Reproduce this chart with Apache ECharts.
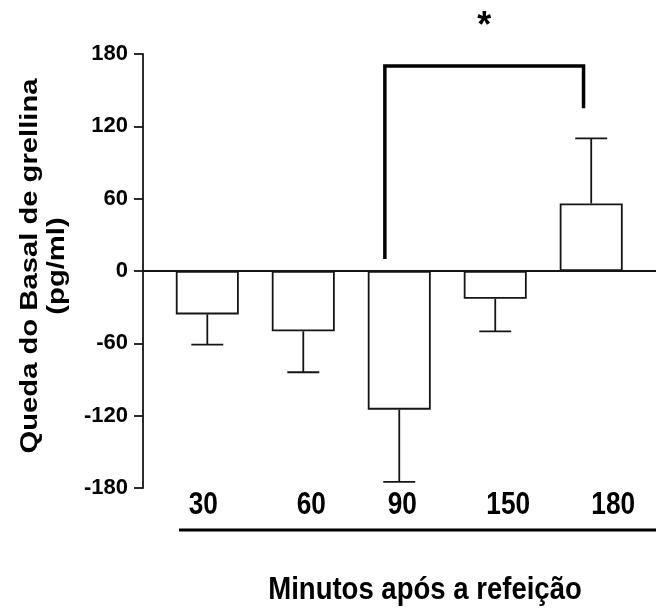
<!DOCTYPE html>
<html>
<head>
<meta charset="utf-8">
<script src="https://cdn.jsdelivr.net/npm/echarts@6/dist/echarts.min.js"></script>
<style>
html,body{margin:0;padding:0;background:#fff;}
#chart{width:656px;height:611px;}
</style>
</head>
<body>
<div id="chart"></div>
<script>
// ---- data ----
const categories = ['30', '60', '90', '150', '180'];
const means = [-36, -50, -115, -23, 56];
const sem = [25, 34, 60, 27, 54];
const yTickValues = [-180, -120, -60, 0, 60, 120, 180];
const bracketX = [2.85, 4.92];
const bracketTop = 170;
const bracketLegEnds = [10, 135];
const sigMarkY = 202;
const sigMark = '*';
const yTitle = ['Queda do Basal de grellina', '(pg/ml)'];
const xTitle = 'Minutos após a refeição';

// ---- layout (pixel nudges of the category labels, as in the original figure) ----
const labelNudge = [-4, 8, 3, 13, 22];

const xPos = categories.map((c, i) => i + 1);
const barData = xPos.map((x, i) => [x, means[i]]);
const errData = xPos.map((x, i) => [x, means[i], sem[i]]);
const labelData = xPos.map(x => [x, -180]);

const normal = "'Liberation Sans',Arial,sans-serif";
const ink = '#151515';

const chart = echarts.init(document.getElementById('chart'), null, {renderer: 'canvas'});
chart.setOption({
  animation: false,
  backgroundColor: '#fff',
  grid: {left: 143, right: 0, top: 54, bottom: 123},
  xAxis: {
    type: 'value', min: 0.33, max: 5.675,
    axisLine: {show: false, onZero: false},
    axisTick: {show: false},
    splitLine: {show: false},
    axisLabel: {show: false}
  },
  yAxis: {
    type: 'value', min: -180, max: 180, interval: 60,
    axisLine: {show: true, lineStyle: {color: ink, width: 1.8}},
    axisTick: {show: true, length: 9, lineStyle: {color: ink, width: 1.8}},
    splitLine: {show: false},
    axisLabel: {fontFamily: normal, fontWeight: 'bold', fontSize: 22, color: '#000', margin: 15,
      customValues: yTickValues}
  },
  series: [
    {
      type: 'bar', data: barData, barWidth: 63,
      itemStyle: {color: '#fff', borderColor: ink, borderWidth: 1.8},
      markLine: {
        symbol: 'none', silent: true, label: {show: false},
        lineStyle: {color: ink, width: 2, type: 'solid'},
        data: [{yAxis: 0}]
      },
      z: 2
    },
    {
      type: 'custom', data: errData, clip: false, z: 3,
      renderItem: function (params, api) {
        const x = api.value(0), m = api.value(1), e = api.value(2);
        const end = m + (m < 0 ? -e : e);
        const p0 = api.coord([x, m]);
        const p1 = api.coord([x, end]);
        const half = api.size([0.333, 0])[0] / 2;
        const st = {stroke: ink, lineWidth: 1.8};
        return {type: 'group', children: [
          {type: 'line', shape: {x1: p0[0], y1: p0[1], x2: p1[0], y2: p1[1]}, style: st},
          {type: 'line', shape: {x1: p1[0] - half, y1: p1[1], x2: p1[0] + half, y2: p1[1]}, style: st}
        ]};
      }
    },
    {
      type: 'custom', data: labelData, clip: false, z: 3,
      renderItem: function (params, api) {
        const p = api.coord([api.value(0), api.value(1)]);
        return {type: 'text', x: p[0] + labelNudge[params.dataIndex], y: p[1] + 17, scaleX: 0.82,
          style: {text: categories[params.dataIndex], font: "bold 32px " + normal, fill: '#000',
            align: 'center', verticalAlign: 'middle'}};
      }
    },
    {
      type: 'custom', data: [[bracketX[0], bracketX[1], bracketTop, bracketLegEnds[0], bracketLegEnds[1], sigMarkY]],
      clip: false, z: 4,
      renderItem: function (params, api) {
        const x1 = api.value(0), x2 = api.value(1), top = api.value(2);
        const a = api.coord([x1, api.value(3)]);
        const b = api.coord([x1, top]);
        const c = api.coord([x2, top]);
        const d = api.coord([x2, api.value(4)]);
        const s = api.coord([(x1 + x2) / 2, api.value(5)]);
        return {type: 'group', children: [
          {type: 'polyline', shape: {points: [a, b, c, d]},
            style: {stroke: '#000', lineWidth: 3.5, fill: null, lineJoin: 'miter'}},
          {type: 'text', x: s[0], y: s[1],
            style: {text: sigMark, font: "bold 36px " + normal, fill: '#000', align: 'center', verticalAlign: 'middle'}}
        ]};
      }
    }
  ],
  graphic: [
    {type: 'line', shape: {x1: 179, y1: 530, x2: 656, y2: 530}, style: {stroke: '#000', lineWidth: 3}},
    {type: 'text', x: 425, y: 590, scaleX: 0.86,
      style: {text: xTitle, font: "bold 32px " + normal, fill: '#000', align: 'center', verticalAlign: 'middle'}},
    {type: 'text', x: 44, y: 266, rotation: Math.PI / 2, scaleX: 1.27,
      style: {text: yTitle.join('\n'), font: "bold 23px " + normal, lineHeight: 27, fill: '#000',
        align: 'center', verticalAlign: 'middle'}}
  ]
});
</script>
</body>
</html>
